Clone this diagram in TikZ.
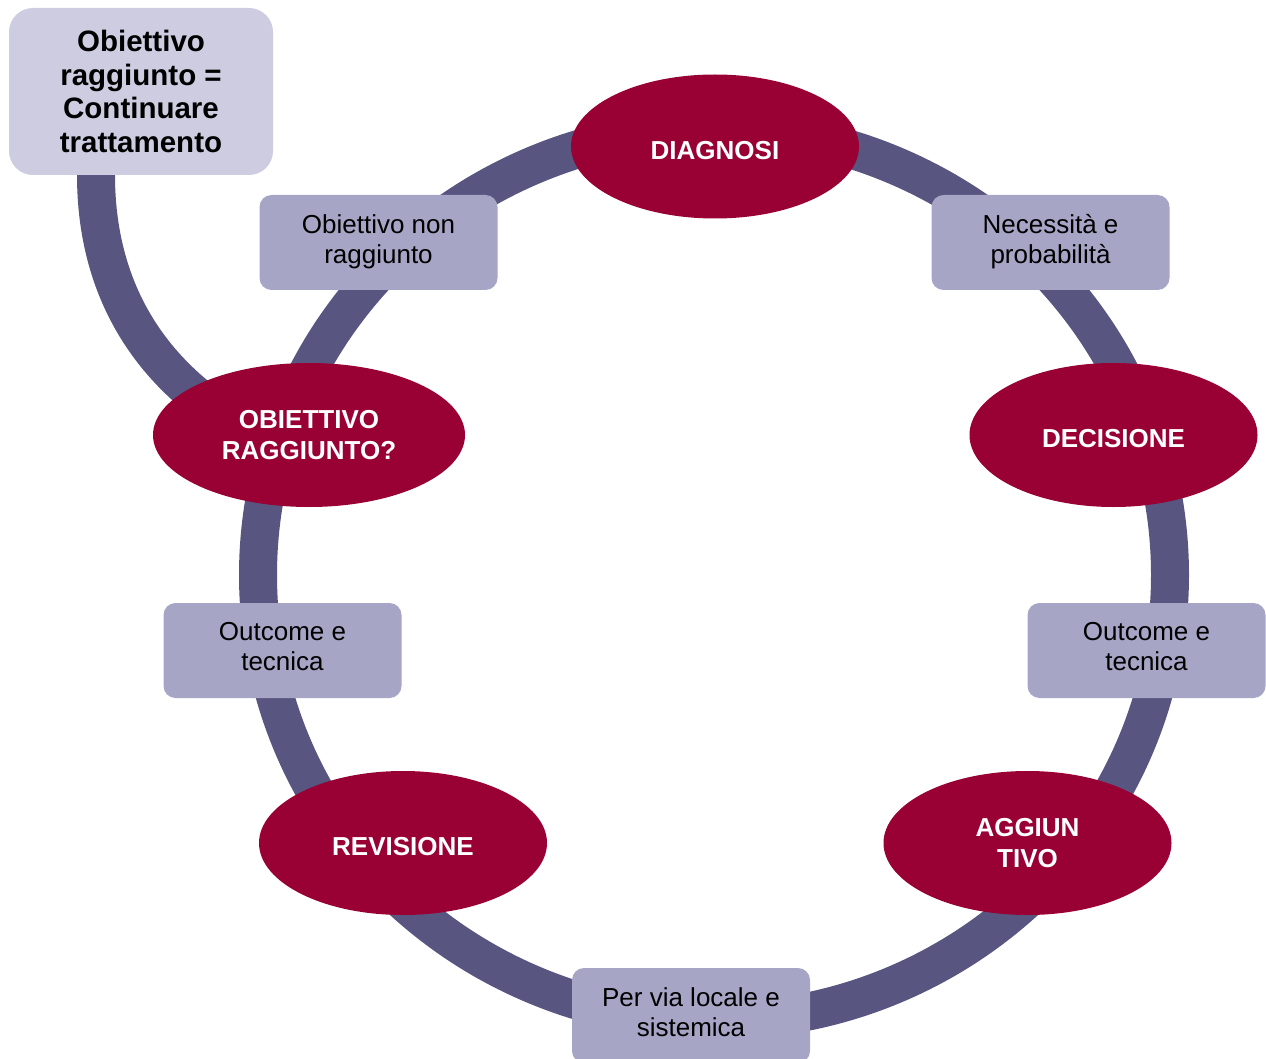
\documentclass[tikz,border=0pt]{standalone}
\usepackage{fontspec}
\setmainfont{Liberation Sans}
\usetikzlibrary{shapes.geometric}
\definecolor{ringcol}{RGB}{88,86,128}
\definecolor{stagecol}{RGB}{153,0,51}
\definecolor{notecol}{RGB}{166,165,198}
\definecolor{goalcol}{RGB}{205,204,224}
\tikzset{
  ring/.style={draw=ringcol, line width=38pt},
  stage/.style={ellipse, fill=stagecol, text=white, inner sep=0pt,
    minimum width=288pt, minimum height=144pt, align=center,
    font=\fontsize{26}{31.5}\selectfont\bfseries,
    execute at begin node={\rule{0pt}{26pt}}},
  note/.style={rectangle, rounded corners=12pt, fill=notecol, text=black,
    minimum width=238pt, minimum height=95pt, align=center, inner sep=0pt,
    font=\fontsize{26}{30}\selectfont,
    execute at end node={\rule[-7.5pt]{0pt}{0pt}}},
  goal/.style={rectangle, rounded corners=24pt, fill=goalcol, text=black,
    minimum width=264pt, minimum height=167pt, align=center, inner sep=0pt,
    font=\fontsize{29.5}{33.5}\selectfont\bfseries}
}
\begin{document}
\begin{tikzpicture}[x=1pt, y=-1pt]
  \useasboundingbox (0,0) rectangle (1266,1059);

  % the cycle band behind all stages
  \coordinate (ctr) at (714,575);
  \draw[ring] (ctr) ellipse [x radius=456, y radius=446];

  % branch leading out of the cycle to the final outcome
  \coordinate (branch) at (96,175);
  \coordinate (branchend) at (230,420);
  \draw[ring] (branch) .. controls (96,290) and (150,370) .. (branchend);

  % intermediate notes on the cycle
  \node[note] (nonreached) at (378.5,242.5) {Obiettivo non\\raggiunto};
  \node[note] (need) at (1050.5,242.5) {Necessità e\\probabilità};
  \node[note] (outl) at (282.5,650.5) {Outcome e\\tecnica};
  \node[note] (outr) at (1146.5,650.5) {Outcome e\\tecnica};
  \node[note] (route) at (691,1015.5) {Per via locale e\\sistemica};

  % main stages
  \node[stage] (diag) at (715,146.5) {DIAGNOSI};
  \node[stage] (dec) at (1113.5,435) {DECISIONE};
  \node[stage, minimum width=312pt] (goalq) at (309,435) {OBIETTIVO\\RAGGIUNTO?};
  \node[stage] (rev) at (403,843) {REVISIONE};
  \node[stage] (add) at (1027.5,843) {AGGIUN\\TIVO};

  % final outcome box
  \node[goal] (goal) at (141,91.5) {Obiettivo\\raggiunto =\\Continuare\\trattamento};
\end{tikzpicture}
\end{document}
